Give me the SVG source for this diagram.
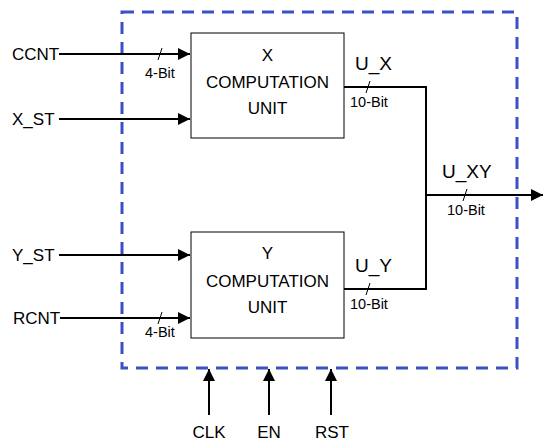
<svg xmlns="http://www.w3.org/2000/svg" width="550" height="446" viewBox="0 0 550 446">
<style>
.t{font-family:"Liberation Sans",Arial,sans-serif;font-size:17px;fill:#000}
.b{font-family:"Liberation Sans",Arial,sans-serif;font-size:19px;fill:#000}
.s{font-family:"Liberation Sans",Arial,sans-serif;font-size:14.5px;fill:#000}
.w{stroke:#000;stroke-width:2;fill:none}
.box{fill:#fff;stroke:#000;stroke-width:1}
.sl{stroke:#000;stroke-width:1}
</style>
<defs>
<marker id="ah" viewBox="0 0 10 10" refX="10" refY="5" markerWidth="6" markerHeight="6" orient="auto" markerUnits="strokeWidth">
<path d="M0,0 L10,5 L0,10 z" fill="#000"/>
</marker>
</defs>
<rect width="550" height="446" fill="#fff"/>
<g id="boundary">
<rect x="122" y="12" width="395" height="356" fill="none" stroke="#3a50c4" stroke-width="3" stroke-dasharray="12,8"/>
</g>
<g id="connectors">
<line class="w" x1="59" y1="54" x2="190" y2="54" marker-end="url(#ah)"/>
<line class="w" x1="59" y1="119" x2="190" y2="119" marker-end="url(#ah)"/>
<line class="w" x1="59" y1="255" x2="190" y2="255" marker-end="url(#ah)"/>
<line class="w" x1="60" y1="318" x2="190" y2="318" marker-end="url(#ah)"/>
<polyline class="w" points="344,87 426,87 426,289 344,289"/>
<line class="w" x1="426" y1="195" x2="543" y2="195" marker-end="url(#ah)"/>
<line class="w" x1="209" y1="415" x2="209" y2="369" marker-end="url(#ah)"/>
<line class="w" x1="269" y1="415" x2="269" y2="369" marker-end="url(#ah)"/>
<line class="w" x1="331" y1="415" x2="331" y2="369" marker-end="url(#ah)"/>
<line class="sl" x1="158" y1="60" x2="162" y2="48"/>
<line class="sl" x1="158" y1="324" x2="162" y2="312"/>
<line class="sl" x1="366" y1="93" x2="370" y2="81"/>
<line class="sl" x1="366" y1="295" x2="370" y2="283"/>
<line class="sl" x1="463" y1="201" x2="467" y2="189"/>
<text class="s" x="145" y="78">4-Bit</text>
<text class="s" x="145" y="337">4-Bit</text>
<text class="s" x="350" y="107">10-Bit</text>
<text class="s" x="350" y="309">10-Bit</text>
<text class="s" x="447" y="215">10-Bit</text>
<text class="b" x="355" y="70">U_X</text>
<text class="b" x="355" y="272">U_Y</text>
<text class="b" x="442" y="178">U_XY</text>
</g>
<g id="xunit">
<rect class="box" x="191" y="33" width="153" height="105"/>
<text class="t" x="267.5" y="61" text-anchor="middle">X</text>
<text class="t" x="267.5" y="88" text-anchor="middle">COMPUTATION</text>
<text class="t" x="267.5" y="114" text-anchor="middle">UNIT</text>
</g>
<g id="yunit">
<rect class="box" x="191" y="232" width="153" height="106"/>
<text class="t" x="267.5" y="259" text-anchor="middle">Y</text>
<text class="t" x="267.5" y="287" text-anchor="middle">COMPUTATION</text>
<text class="t" x="267.5" y="313" text-anchor="middle">UNIT</text>
</g>
<g id="ccnt"><text class="t" x="12" y="60">CCNT</text></g>
<g id="xst"><text class="t" x="12" y="125">X_ST</text></g>
<g id="yst"><text class="t" x="12" y="261">Y_ST</text></g>
<g id="rcnt"><text class="t" x="13" y="324">RCNT</text></g>
<g id="clk"><text class="t" x="209" y="438" text-anchor="middle">CLK</text></g>
<g id="en"><text class="t" x="269" y="438" text-anchor="middle">EN</text></g>
<g id="rst"><text class="t" x="332" y="438" text-anchor="middle">RST</text></g>
</svg>
